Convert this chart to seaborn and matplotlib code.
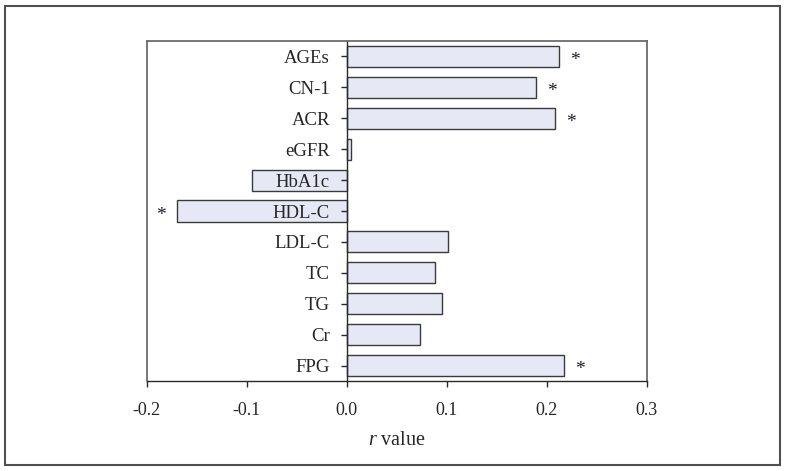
import matplotlib
matplotlib.use("Agg")
import matplotlib.pyplot as plt
import seaborn as sns
import pandas as pd
from matplotlib.patches import Rectangle
from matplotlib.lines import Line2D

categories = ["AGEs", "CN-1", "ACR", "eGFR", "HbA1c", "HDL-C", "LDL-C", "TC", "TG", "Cr", "FPG"]
r_values = [0.212, 0.189, 0.208, 0.004, -0.095, -0.170, 0.101, 0.088, 0.095, 0.073, 0.217]
significant = [True, True, True, False, False, True, False, False, False, False, True]
x_ticks = [-0.2, -0.1, 0.0, 0.1, 0.2, 0.3]
x_tick_labels = ["-0.2", "-0.1", "0.0", "0.1", "0.2", "0.3"]

sns.set_style("white")
plt.rcParams["font.family"] = ["Liberation Serif", "DejaVu Serif"]
plt.rcParams["mathtext.fontset"] = "custom"
plt.rcParams["mathtext.it"] = "Liberation Serif:italic"
plt.rcParams["mathtext.rm"] = "Liberation Serif"

df = pd.DataFrame({"cat": categories, "r": r_values})

fig = plt.figure(figsize=(7.86, 4.71), dpi=100)
ax = fig.add_axes([146.5 / 786, 1 - 381 / 471, 500 / 786, 340 / 471])

sns.barplot(data=df, y="cat", x="r", orient="h", ax=ax, color="#e6e9f5",
            edgecolor="#3a3a3a", linewidth=1.0, width=0.68, saturation=1)
ax.set_axisbelow(False)

ax.set_xlim(-0.2, 0.3)
ax.set_ylim(len(categories) - 0.5, -0.5)
ax.set_xticks(x_ticks)
ax.set_xticklabels(x_tick_labels)
ax.set_ylabel("")
ax.set_xlabel(r"$\mathit{r}$ value", fontsize=14.5, labelpad=9)

# spines
ax.spines["left"].set_position(("data", 0))
for s in ["left", "bottom"]:
    ax.spines[s].set_color("#2a2a2a")
    ax.spines[s].set_linewidth(1.0)
for s in ["top", "right"]:
    ax.spines[s].set_visible(True)
    ax.spines[s].set_color("#606060")
    ax.spines[s].set_linewidth(1.2)
ax.add_line(Line2D([0, 0], [0, 1], transform=ax.transAxes, color="#606060", lw=1.2, clip_on=False))

ax.tick_params(axis="x", direction="out", length=4, width=1, color="#2a2a2a", pad=11,
               bottom=True, labelsize=13)
ax.tick_params(axis="y", direction="out", length=4, width=1, color="#2a2a2a", pad=8,
               left=True, labelsize=13.5)

# significance stars
for i, (v, sig) in enumerate(zip(r_values, significant)):
    if sig:
        off = 0.016 if v >= 0 else -0.016
        ax.text(v + off, i + 0.14, "*", ha="center", va="center", fontsize=14, color="#1a1a2a")

# outer frame
fig.add_artist(Rectangle((5 / 786, 6 / 471), 775 / 786, 459 / 471, transform=fig.transFigure,
                         fill=False, edgecolor="#505050", linewidth=1.5))

fig.savefig("out.png", dpi=100)
